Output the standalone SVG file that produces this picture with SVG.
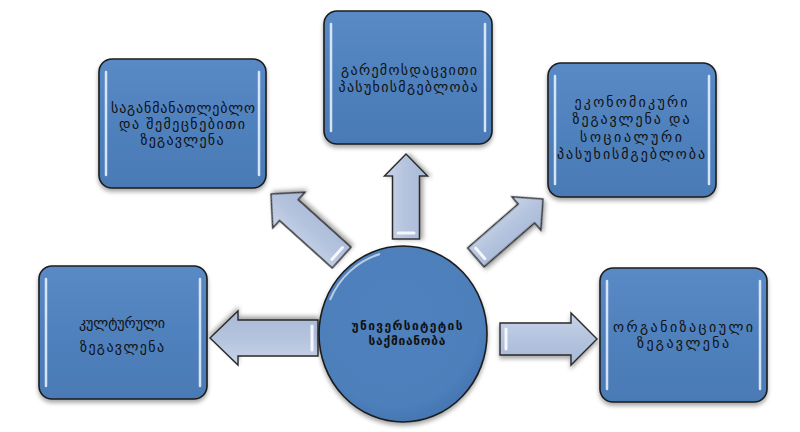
<svg xmlns="http://www.w3.org/2000/svg" width="800" height="432" viewBox="0 0 800 432">
<style>
.box{fill:url(#boxg);stroke:#1c1c1c;stroke-width:1.6}
.hl{stroke:#e4eefb;stroke-opacity:0.9;stroke-width:2.5;stroke-linecap:round;fill:none}
.ahl{stroke:#ffffff;stroke-opacity:0.85;stroke-width:3;stroke-linecap:round;fill:none}
.arr{fill:url(#arrg);stroke:#2a2a2a;stroke-width:1.4;stroke-linejoin:miter}
.t{font-family:"DejaVu Sans","Noto Sans Georgian",sans-serif;font-size:14px;fill:#111;text-anchor:middle}
.tc{font-family:"DejaVu Sans","Noto Sans Georgian",sans-serif;font-size:12px;font-weight:bold;fill:#111;text-anchor:middle}
</style>
<defs>
<linearGradient id="boxg" x1="0" y1="0" x2="0" y2="1">
<stop offset="0" stop-color="#5a8ac6"/>
<stop offset="0.5" stop-color="#4f81bd"/>
<stop offset="1" stop-color="#4a7ab5"/>
</linearGradient>
<linearGradient id="arrg" x1="0" y1="0" x2="0" y2="1">
<stop offset="0" stop-color="#c9d4e8"/>
<stop offset="0.5" stop-color="#b4c3de"/>
<stop offset="1" stop-color="#a9b9d6"/>
</linearGradient>
<radialGradient id="circg" cx="0.45" cy="0.4" r="0.6">
<stop offset="0" stop-color="#4f81bd"/>
<stop offset="0.85" stop-color="#4d7fbb"/>
<stop offset="1" stop-color="#4577b2"/>
</radialGradient>
<filter id="sh" x="-10%" y="-10%" width="120%" height="125%">
<feDropShadow dx="0" dy="3" stdDeviation="2" flood-color="#000" flood-opacity="0.35"/>
</filter>
</defs>

<g id="connectors">
<g transform="translate(210,338) rotate(180)">
<path class="arr" filter="url(#sh)" d="M0,0 L-28,-27 L-28,-18 L-108,-18 L-108,18 L-28,18 L-28,27 Z"/>
<line class="ahl" x1="-102" y1="-12" x2="-102" y2="12"/>
</g>
<g transform="translate(597,339)">
<path class="arr" filter="url(#sh)" d="M0,0 L-26,-26 L-26,-16 L-97,-16 L-97,16 L-26,16 L-26,26 Z"/>
<line class="ahl" x1="-91" y1="-10" x2="-91" y2="10"/>
</g>
<g transform="translate(406,154) rotate(-90)">
<path class="arr" filter="url(#sh)" d="M0,0 L-22,-21.5 L-22,-13.5 L-85,-13.5 L-85,13.5 L-22,13.5 L-22,21.5 Z"/>
<line class="ahl" x1="-79" y1="-8" x2="-79" y2="8"/>
</g>
<g transform="translate(271,194) rotate(-138)">
<path class="arr" filter="url(#sh)" d="M0,0 L-24,-24 L-24,-14 L-95,-14 L-95,14 L-24,14 L-24,24 Z"/>
<line class="ahl" x1="-89" y1="-8" x2="-89" y2="8"/>
</g>
<g transform="translate(543,199) rotate(-41)">
<path class="arr" filter="url(#sh)" d="M0,0 L-22,-22 L-22,-12.5 L-89,-12.5 L-89,12.5 L-22,12.5 L-22,22 Z"/>
<line class="ahl" x1="-83" y1="-7" x2="-83" y2="7"/>
</g>
</g>

<g id="center">
<ellipse cx="403" cy="334" rx="84" ry="88" fill="url(#circg)" stroke="#1c1c1c" stroke-width="1.6" filter="url(#sh)"/>
<path d="M330,300 A78,82 0 0 1 380,254" fill="none" stroke="#ffffff" stroke-opacity="0.6" stroke-width="2"/>
<text class="tc" x="407" y="330" textLength="111" lengthAdjust="spacing">უნივერსიტეტის</text>
<text class="tc" x="407" y="344.5" textLength="77" lengthAdjust="spacing">საქმიანობა</text>
</g>

<g id="educational">
<rect class="box" x="99" y="59" width="167" height="129" rx="13" filter="url(#sh)"/>
<line class="hl" x1="106" y1="72" x2="106" y2="175"/>
<line class="hl" x1="259" y1="72" x2="259" y2="175"/>
<text class="t" x="183" y="113" textLength="144" lengthAdjust="spacing">საგანმანათლებლო</text>
<text class="t" x="182" y="129" textLength="126" lengthAdjust="spacing">და შემეცნებითი</text>
<text class="t" x="182" y="145" textLength="83" lengthAdjust="spacing">ზეგავლენა</text>
</g>

<g id="environmental">
<rect class="box" x="324" y="11" width="168" height="133" rx="13" filter="url(#sh)"/>
<line class="hl" x1="331" y1="24" x2="331" y2="131"/>
<line class="hl" x1="485" y1="24" x2="485" y2="131"/>
<text class="t" x="409" y="75" textLength="136" lengthAdjust="spacing">გარემოსდაცვითი</text>
<text class="t" x="408" y="92" textLength="139" lengthAdjust="spacing">პასუხისმგებლობა</text>
</g>

<g id="economic">
<rect class="box" x="548" y="63" width="168" height="134" rx="13" filter="url(#sh)"/>
<line class="hl" x1="555" y1="76" x2="555" y2="184"/>
<line class="hl" x1="709" y1="76" x2="709" y2="184"/>
<text class="t" x="631" y="107" textLength="113" lengthAdjust="spacing">ეკონომიკური</text>
<text class="t" x="631" y="124" textLength="117" lengthAdjust="spacing">ზეგავლენა და</text>
<text class="t" x="631" y="142" textLength="102" lengthAdjust="spacing">სოციალური</text>
<text class="t" x="631" y="159" textLength="148" lengthAdjust="spacing">პასუხისმგებლობა</text>
</g>

<g id="cultural">
<rect class="box" x="39" y="266" width="168" height="133" rx="13" filter="url(#sh)"/>
<line class="hl" x1="46" y1="279" x2="46" y2="386"/>
<line class="hl" x1="200" y1="279" x2="200" y2="386"/>
<text class="t" x="122" y="328" textLength="86" lengthAdjust="spacing">კულტურული</text>
<text class="t" x="122" y="352" textLength="84" lengthAdjust="spacing">ზეგავლენა</text>
</g>

<g id="organizational">
<rect class="box" x="600" y="268" width="167" height="134" rx="13" filter="url(#sh)"/>
<line class="hl" x1="607" y1="281" x2="607" y2="389"/>
<line class="hl" x1="760" y1="281" x2="760" y2="389"/>
<text class="t" x="683" y="332" textLength="140" lengthAdjust="spacing">ორგანიზაციული</text>
<text class="t" x="683" y="348" textLength="92" lengthAdjust="spacing">ზეგავლენა</text>
</g>
</svg>
